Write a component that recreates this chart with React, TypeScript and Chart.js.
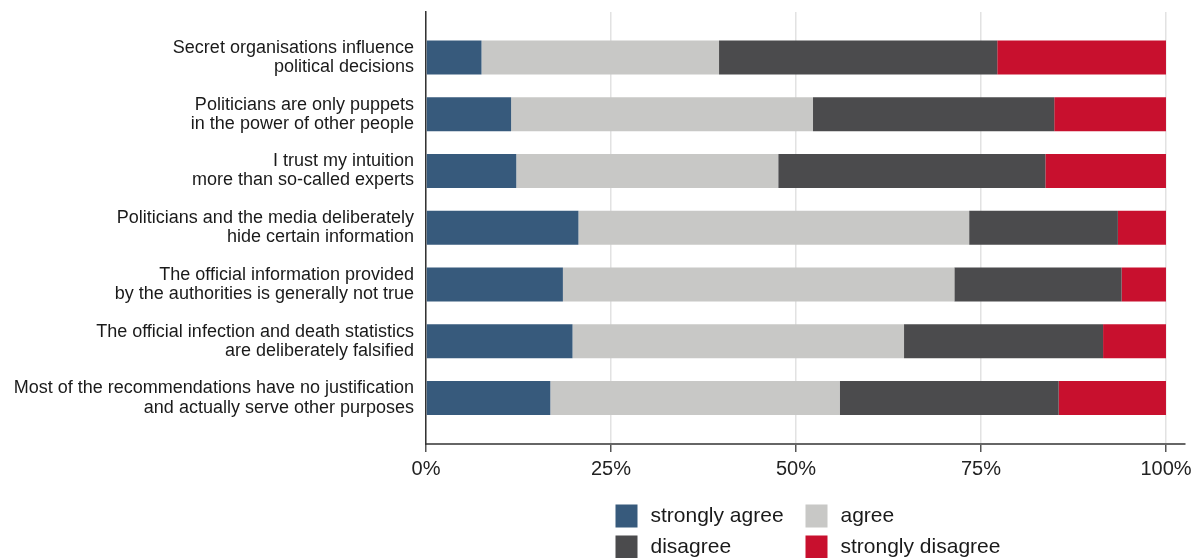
import React, { useEffect, useRef } from "react";
import { Chart, registerables } from "chart.js";

Chart.register(...registerables);

const categories: string[][] = [
  ["Secret organisations influence", "political decisions"],
  ["Politicians are only puppets", "in the power of other people"],
  ["I trust my intuition", "more than so-called experts"],
  ["Politicians and the media deliberately", "hide certain information"],
  ["The official information provided", "by the authorities is generally not true"],
  ["The official infection and death statistics", "are deliberately falsified"],
  ["Most of the recommendations have no justification", "and actually serve other purposes"],
];

const stronglyAgree = [7.5, 11.5, 12.2, 20.6, 18.5, 19.8, 16.8];
const agree = [32.1, 40.8, 35.4, 52.8, 52.9, 44.8, 39.1];
const disagree = [37.6, 32.6, 36.1, 20.1, 22.6, 26.9, 29.6];
const stronglyDisagree = [22.8, 15.1, 16.3, 6.5, 6.0, 8.5, 14.5];

const seriesNames = ["strongly agree", "agree", "disagree", "strongly disagree"];
const seriesColors = ["#375a7c", "#c8c8c6", "#4b4b4d", "#c8102e"];
const xTicks = [0, 25, 50, 75, 100];

const FONT = "'Liberation Sans', Arial, sans-serif";

const legendPlugin = {
  id: "gridLegend",
  afterDraw(chart: any) {
    const ctx = chart.ctx;
    const ca = chart.chartArea;
    const cx = (ca.left + ca.right) / 2;
    const colX = [cx - 190, cx];
    const rowY = [516, 547];
    ctx.save();
    ctx.font = `21px ${FONT}`;
    ctx.textBaseline = "middle";
    ctx.textAlign = "left";
    chart.data.datasets.forEach((ds: any, i: number) => {
      const c = i % 2;
      const r = Math.floor(i / 2);
      const x = colX[c];
      const y = rowY[r];
      ctx.fillStyle = ds.backgroundColor;
      ctx.fillRect(x, y - 11.5, 22, 23);
      ctx.fillStyle = "#1a1a1a";
      ctx.fillText(ds.label, x + 35, y);
    });
    ctx.restore();
  },
};

export default function App() {
  const ref = useRef<HTMLCanvasElement | null>(null);

  useEffect(() => {
    if (!ref.current) return;
    const seriesValues = [stronglyAgree, agree, disagree, stronglyDisagree];
    const chart = new Chart(ref.current, {
      type: "bar",
      data: {
        datasets: seriesValues.map((vals, s) => ({
          label: seriesNames[s],
          data: vals.map((v, i) => ({ x: v, y: i })),
          backgroundColor: seriesColors[s],
          borderWidth: 0,
          barPercentage: 0.6,
          categoryPercentage: 1,
        })),
      },
      options: {
        indexAxis: "y",
        animation: false,
        responsive: true,
        maintainAspectRatio: false,
        layout: { padding: { top: 12, right: 11, left: 0, bottom: 0 } },
        plugins: {
          legend: { display: false },
          tooltip: { enabled: false },
        },
        scales: {
          x: {
            type: "linear",
            stacked: true,
            min: 0,
            max: 102.57,
            offset: false,
            afterBuildTicks: (scale: any) => {
              scale.ticks = xTicks.map((v) => ({ value: v }));
            },
            afterFit: (scale: any) => {
              scale.height = 114;
              scale.paddingLeft = 0;
              scale.paddingRight = 0;
            },
            ticks: {
              callback: (v: any) => `${v}%`,
              font: { family: FONT, size: 20 },
              color: "#222",
              padding: 5,
              maxRotation: 0,
              autoSkip: false,
            },
            grid: {
              color: "#e2e2e2",
              lineWidth: 1.5,
              tickColor: "#555",
              tickLength: 8,
              tickWidth: 1.5,
              offset: false,
            },
            border: { display: true, color: "#666", width: 2 },
          },
          y: {
            type: "linear",
            stacked: true,
            reverse: true,
            offset: false,
            min: -0.8,
            max: 6.81,
            afterBuildTicks: (scale: any) => {
              scale.ticks = categories.map((_, i) => ({ value: i }));
            },
            afterFit: (scale: any) => {
              scale.width = 426;
              scale.paddingTop = 0;
              scale.paddingBottom = 0;
            },
            ticks: {
              callback: (v: any) => categories[v] ?? "",
              font: { family: FONT, size: 18, lineHeight: 1.06 },
              color: "#1a1a1a",
              padding: 12,
              autoSkip: false,
            },
            grid: { display: false, drawTicks: false, offset: false },
            border: { display: true, color: "#333", width: 1.5 },
          },
        },
      } as any,
      plugins: [legendPlugin],
    });
    return () => chart.destroy();
  }, []);

  return (
    <div style={{ position: "absolute", left: 0, top: 0, width: 1196, height: 558, background: "#fff" }}>
      <canvas ref={ref} />
    </div>
  );
}
